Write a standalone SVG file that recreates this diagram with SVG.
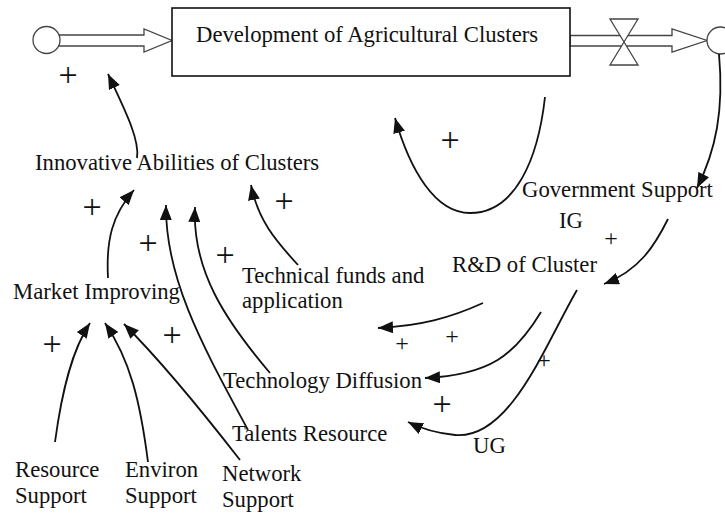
<svg xmlns="http://www.w3.org/2000/svg" width="725" height="515" viewBox="0 0 725 515">
<defs>
<style>
text{font-family:"Liberation Serif","Times New Roman",serif;fill:#111;}
.lbl{font-size:22.7px;}
.pb{font-size:34px;text-anchor:middle;}
.ps{font-size:24px;text-anchor:middle;}
.link{fill:none;stroke:#111;stroke-width:1.8;marker-end:url(#ah);}
.pipe{fill:#fff;stroke:#444;stroke-width:1.3;}
</style>
<marker id="ah" viewBox="0 0 15 12" refX="15" refY="6" markerWidth="15" markerHeight="12" markerUnits="userSpaceOnUse" orient="auto">
<path d="M0,0 L15,6 L0,12 z" fill="#111"/>
</marker>
</defs>
<rect width="725" height="515" fill="#fff"/>

<g id="flows">
<path class="pipe" d="M59,35 L144,35 L144,29 L172,40.5 L144,52 L144,46 L59,46 z"/>
<circle id="source" class="pipe" cx="46.5" cy="40" r="13.5"/>
<path class="pipe" d="M570,35.5 L672,35.5 L672,29 L707,40.5 L672,52 L672,46 L570,46 z"/>
<path class="pipe" d="M610,19 L638,19 L610,65 L638,65 z"/>
<circle id="sink" class="pipe" cx="720.5" cy="40.5" r="13.5"/>
</g>

<g id="development">
<rect x="172" y="8" width="398" height="68" fill="#fff" stroke="#111" stroke-width="1.6"/>
<text class="lbl" x="196" y="42">Development of Agricultural Clusters</text>
</g>
<g id="innovative"><text class="lbl" x="35" y="170">Innovative Abilities of Clusters</text></g>
<g id="government"><text class="lbl" x="522" y="197">Government Support</text></g>
<g id="ig"><text class="lbl" x="559" y="228">IG</text></g>
<g id="rd"><text class="lbl" x="452" y="272">R&amp;D of Cluster</text></g>
<g id="technical"><text class="lbl" x="242" y="283">Technical funds and</text><text class="lbl" x="242" y="308">application</text></g>
<g id="market"><text class="lbl" x="13" y="299">Market Improving</text></g>
<g id="diffusion"><text class="lbl" x="223" y="388">Technology Diffusion</text></g>
<g id="talents"><text class="lbl" x="232" y="441">Talents Resource</text></g>
<g id="ug"><text class="lbl" x="473" y="453">UG</text></g>
<g id="resource"><text class="lbl" x="15" y="477">Resource</text><text class="lbl" x="15" y="503">Support</text></g>
<g id="environ"><text class="lbl" x="125" y="477">Environ</text><text class="lbl" x="125" y="503">Support</text></g>
<g id="network"><text class="lbl" x="222" y="481">Network</text><text class="lbl" x="222" y="507">Support</text></g>

<g id="connectors">
<path class="link" d="M137,158 C140,140 125,110 108,74"/>
<path class="link" d="M719,54 C724,110 716,150 697,188"/>
<path class="link" d="M545,97 C538,160 515,213 470,213 C435,213 410,170 395,118"/>
<path class="link" d="M668,219 C655,245 640,270 604,284"/>
<path class="link" d="M108,278 C106,240 112,215 134,190"/>
<path class="link" d="M248,430 C205,350 165,280 166,205"/>
<path class="link" d="M270,373 C225,320 192,270 195,207"/>
<path class="link" d="M298,265 C275,240 258,220 251,185"/>
<path class="link" d="M55,442 C62,390 72,350 90,323"/>
<path class="link" d="M148,462 C140,400 130,360 105,323"/>
<path class="link" d="M240,460 C205,415 165,365 124,324"/>
<path class="link" d="M483,303 C450,318 420,326 378,328"/>
<path class="link" d="M541,312 C515,355 490,375 425,378"/>
<path class="link" d="M577,290 C545,345 510,440 455,435 C435,433 420,428 408,422"/>
</g>

<g id="polarities">
<text class="pb" x="68" y="86">+</text>
<text class="pb" x="92" y="218">+</text>
<text class="pb" x="148" y="254">+</text>
<text class="pb" x="225" y="266">+</text>
<text class="pb" x="284" y="212">+</text>
<text class="pb" x="450" y="151">+</text>
<text class="ps" x="611" y="246">+</text>
<text class="ps" x="402" y="351">+</text>
<text class="ps" x="452" y="344">+</text>
<text class="pb" x="442" y="415">+</text>
<text class="ps" x="544" y="368">+</text>
<text class="pb" x="52" y="355">+</text>
<text class="pb" x="172" y="346">+</text>
</g>
</svg>
